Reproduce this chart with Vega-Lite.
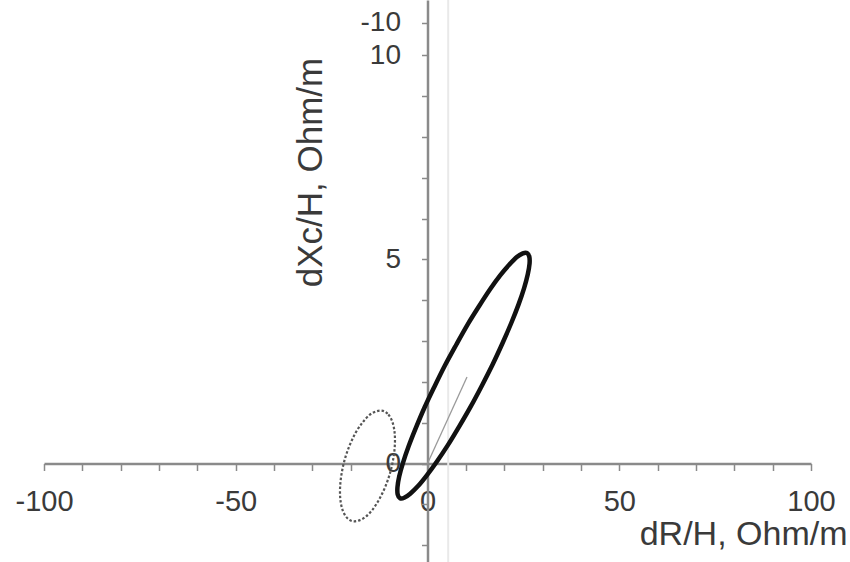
{
  "$schema": "https://vega.github.io/schema/vega-lite/v6.json",
  "autosize": {"type": "none"},
  "width": 767,
  "height": 562,
  "padding": {"left": 44, "top": 0, "right": 39, "bottom": 0},
  "background": "white",
  "config": {
    "view": {"stroke": null},
    "font": "Liberation Sans"
  },
  "datasets": {
    "solid": [
      {"i": 0, "x": 25.95, "y": 5.16},
      {"i": 1, "x": 26.54, "y": 5.07},
      {"i": 2, "x": 26.61, "y": 4.90},
      {"i": 3, "x": 26.15, "y": 4.64},
      {"i": 4, "x": 25.19, "y": 4.30},
      {"i": 5, "x": 23.75, "y": 3.90},
      {"i": 6, "x": 21.87, "y": 3.45},
      {"i": 7, "x": 19.61, "y": 2.96},
      {"i": 8, "x": 17.04, "y": 2.44},
      {"i": 9, "x": 14.24, "y": 1.92},
      {"i": 10, "x": 11.29, "y": 1.40},
      {"i": 11, "x": 8.28, "y": 0.91},
      {"i": 12, "x": 5.31, "y": 0.45},
      {"i": 13, "x": 2.46, "y": 0.05},
      {"i": 14, "x": -0.18, "y": -0.29},
      {"i": 15, "x": -2.53, "y": -0.56},
      {"i": 16, "x": -4.51, "y": -0.74},
      {"i": 17, "x": -6.08, "y": -0.84},
      {"i": 18, "x": -7.17, "y": -0.85},
      {"i": 19, "x": -7.77, "y": -0.76},
      {"i": 20, "x": -7.83, "y": -0.58},
      {"i": 21, "x": -7.38, "y": -0.32},
      {"i": 22, "x": -6.42, "y": 0.01},
      {"i": 23, "x": -4.97, "y": 0.41},
      {"i": 24, "x": -3.09, "y": 0.86},
      {"i": 25, "x": -0.83, "y": 1.36},
      {"i": 26, "x": 1.74, "y": 1.87},
      {"i": 27, "x": 4.54, "y": 2.40},
      {"i": 28, "x": 7.49, "y": 2.91},
      {"i": 29, "x": 10.49, "y": 3.41},
      {"i": 30, "x": 13.47, "y": 3.86},
      {"i": 31, "x": 16.32, "y": 4.27},
      {"i": 32, "x": 18.95, "y": 4.61},
      {"i": 33, "x": 21.30, "y": 4.87},
      {"i": 34, "x": 23.29, "y": 5.06},
      {"i": 35, "x": 24.86, "y": 5.15}
    ],
    "dashed": [
      {"i": 0, "x": -11.61, "y": 1.29},
      {"i": 1, "x": -10.21, "y": 1.20},
      {"i": 2, "x": -9.19, "y": 1.03},
      {"i": 3, "x": -8.60, "y": 0.78},
      {"i": 4, "x": -8.50, "y": 0.48},
      {"i": 5, "x": -8.88, "y": 0.14},
      {"i": 6, "x": -9.72, "y": -0.22},
      {"i": 7, "x": -10.97, "y": -0.56},
      {"i": 8, "x": -12.54, "y": -0.87},
      {"i": 9, "x": -14.32, "y": -1.13},
      {"i": 10, "x": -16.19, "y": -1.31},
      {"i": 11, "x": -18.02, "y": -1.40},
      {"i": 12, "x": -19.69, "y": -1.41},
      {"i": 13, "x": -21.09, "y": -1.32},
      {"i": 14, "x": -22.11, "y": -1.15},
      {"i": 15, "x": -22.70, "y": -0.90},
      {"i": 16, "x": -22.80, "y": -0.60},
      {"i": 17, "x": -22.42, "y": -0.26},
      {"i": 18, "x": -21.58, "y": 0.10},
      {"i": 19, "x": -20.33, "y": 0.44},
      {"i": 20, "x": -18.76, "y": 0.75},
      {"i": 21, "x": -16.98, "y": 1.00},
      {"i": 22, "x": -15.11, "y": 1.19},
      {"i": 23, "x": -13.28, "y": 1.28}
    ],
    "vector": [
      {"i": 0, "x": 0, "y": 0},
      {"i": 1, "x": 10.3, "y": 2.12}
    ],
    "faint": [
      {"x": 5.4}
    ]
  },
  "layer": [
    {
      "data": {"name": "faint"},
      "mark": {"type": "rule", "color": "#e9e9e9", "strokeWidth": 2},
      "encoding": {
        "x": {
          "field": "x", "type": "quantitative",
          "scale": {"domain": [-100, 100], "nice": false, "zero": false},
          "axis": {
            "orient": "bottom",
            "offset": -98.5,
            "values": [-100, -90, -80, -70, -60, -50, -40, -30, -20, -10, 0, 10, 20, 30, 40, 50, 60, 70, 80, 90, 100],
            "tickCount": 30,
            "labelExpr": "datum.value % 50 == 0 ? ('' + datum.value) : ''",
            "labelFlush": false,
            "labelOverlap": false,
            "grid": false,
            "domainColor": "#8a8a8a",
            "domainWidth": 2.5,
            "tickColor": "#8a8a8a",
            "tickWidth": 1.5,
            "tickSize": 7,
            "labelPadding": 17,
            "labelFont": "Liberation Sans",
            "labelFontSize": 29,
            "labelColor": "#3a3a3a",
            "title": "dR/H, Ohm/m",
            "titleFont": "Liberation Sans",
            "titleFontSize": 34,
            "titleFontWeight": "normal",
            "titleColor": "#3a3a3a",
            "titleAlign": "right",
            "titleBaseline": "alphabetic",
            "titleX": 803,
            "titleY": 81
          }
        }
      }
    },
    {
      "data": {"name": "vector"},
      "mark": {"type": "line", "color": "#9a9a9a", "strokeWidth": 1.3},
      "encoding": {
        "x": {"field": "x", "type": "quantitative"},
        "y": {"field": "y", "type": "quantitative"},
        "order": {"field": "i"}
      }
    },
    {
      "data": {"name": "dashed"},
      "mark": {"type": "line", "color": "#555555", "strokeWidth": 2.2, "strokeDash": [2.5, 2], "interpolate": "cardinal-closed"},
      "encoding": {
        "x": {"field": "x", "type": "quantitative"},
        "y": {"field": "y", "type": "quantitative"},
        "order": {"field": "i"}
      }
    },
    {
      "data": {"name": "solid"},
      "mark": {"type": "line", "color": "#111111", "strokeWidth": 4.5, "interpolate": "cardinal-closed"},
      "encoding": {
        "x": {
          "field": "x", "type": "quantitative",
          "scale": {"domain": [-100, 100], "nice": false, "zero": false},
          "axis": {
            "orient": "bottom",
            "offset": -98.5,
            "values": [-100, -90, -80, -70, -60, -50, -40, -30, -20, -10, 0, 10, 20, 30, 40, 50, 60, 70, 80, 90, 100],
            "tickCount": 30,
            "labelExpr": "datum.value % 50 == 0 ? ('' + datum.value) : ''",
            "labelFlush": false,
            "labelOverlap": false,
            "grid": false,
            "domainColor": "#8a8a8a",
            "domainWidth": 2.5,
            "tickColor": "#8a8a8a",
            "tickWidth": 1.5,
            "tickSize": 7,
            "labelPadding": 17,
            "labelFont": "Liberation Sans",
            "labelFontSize": 29,
            "labelColor": "#3a3a3a",
            "title": "dR/H, Ohm/m",
            "titleFont": "Liberation Sans",
            "titleFontSize": 34,
            "titleFontWeight": "normal",
            "titleColor": "#3a3a3a",
            "titleAlign": "right",
            "titleBaseline": "alphabetic",
            "titleX": 803,
            "titleY": 81
          }
        },
        "y": {
          "field": "y", "type": "quantitative",
          "scale": {"domain": [-2.414, 11.36], "nice": false, "zero": false},
          "axis": {
            "orient": "left",
            "offset": -383.5,
            "values": [-2, -1, 0, 1, 2, 3, 4, 5, 6, 7, 8, 9, 10, 10.8],
            "tickCount": 20,
            "labelExpr": "datum.value > 10.5 ? '-10' : (datum.value % 5 == 0 ? ('' + datum.value) : '')",
            "labelOverlap": false,
            "labelFlush": false,
            "grid": false,
            "domainColor": "#8a8a8a",
            "domainWidth": 2.5,
            "tickColor": "#8a8a8a",
            "tickWidth": 1.5,
            "tickSize": 6,
            "labelPadding": 21,
            "labelFont": "Liberation Sans",
            "labelFontSize": 28,
            "labelColor": "#3a3a3a",
            "title": "dXc/H, Ohm/m",
            "titleFont": "Liberation Sans",
            "titleFontSize": 35,
            "titleFontWeight": "normal",
            "titleColor": "#3a3a3a",
            "titleAngle": -90,
            "titleAlign": "center",
            "titleBaseline": "middle",
            "titleX": -117,
            "titleY": 172
          }
        },
        "order": {"field": "i"}
      }
    }
  ]
}
